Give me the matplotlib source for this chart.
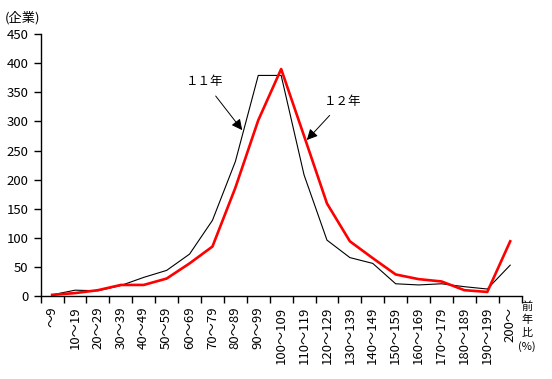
import matplotlib
matplotlib.use('Agg')
import matplotlib.pyplot as plt

plt.rcParams['font.family'] = ['Noto Sans CJK JP', 'DejaVu Sans']

# categories (前年比 %)
labels = ['～9', '10～19', '20～29', '30～39', '40～49', '50～59', '60～69',
          '70～79', '80～89', '90～99', '100～109', '110～119', '120～129',
          '130～139', '140～149', '150～159', '160～169', '170～179',
          '180～189', '190～199', '200～']

# number of companies
y11 = [2, 10, 9, 18, 32, 44, 72, 130, 231, 379, 379, 208, 96, 66, 56,
       21, 19, 21, 16, 12, 53]
y12 = [2, 5, 10, 19, 19, 30, 56, 85, 186, 302, 390, 275, 159, 94, 65,
       37, 29, 25, 10, 7, 94]

x = list(range(len(labels)))

fig = plt.figure(figsize=(5.52, 3.79), dpi=100)
ax = fig.add_axes([0.0737, 0.219, 0.8713, 0.691])

ax.plot(x, y11, color='black', lw=0.8)
ax.plot(x, y12, color='#ff0000', lw=1.9)

ax.set_xlim(-0.5, len(labels) - 0.5)
ax.set_ylim(0, 450)
ax.set_yticks(range(0, 451, 50))
ax.set_xticks([i - 0.5 for i in range(len(labels) + 1)])
ax.set_xticklabels([])
ax.tick_params(axis='both', direction='out', length=5, width=1, labelsize=9.5)
ax.tick_params(axis='y', pad=4)

for s in ['top', 'right']:
    ax.spines[s].set_visible(False)
for s in ['left', 'bottom']:
    ax.spines[s].set_linewidth(1)

for i, lab in enumerate(labels):
    ax.text(i, -18, lab, rotation=90, ha='center', va='top', fontsize=9.5,
            transform=ax.transData, clip_on=False)

ax.annotate('１１年', xy=(8.3, 285), xytext=(6.64, 369), ha='center', va='center',
            fontsize=9,
            arrowprops=dict(arrowstyle='-|>', color='black', lw=0.7,
                            mutation_scale=16, shrinkA=5, shrinkB=0))
ax.annotate('１２年', xy=(11.12, 268), xytext=(12.7, 335), ha='center', va='center',
            fontsize=9,
            arrowprops=dict(arrowstyle='-|>', color='black', lw=0.7,
                            mutation_scale=16, shrinkA=5, shrinkB=0))

fig.text(5 / 552, 1 - 18 / 379, '(企業)', fontsize=9.5, ha='left', va='center')
fig.text(527 / 552, 1 - 301 / 379, '前\n年\n比\n(%)', fontsize=8, ha='center',
         va='top', linespacing=1.35)

fig.savefig('out.png', dpi=100)
